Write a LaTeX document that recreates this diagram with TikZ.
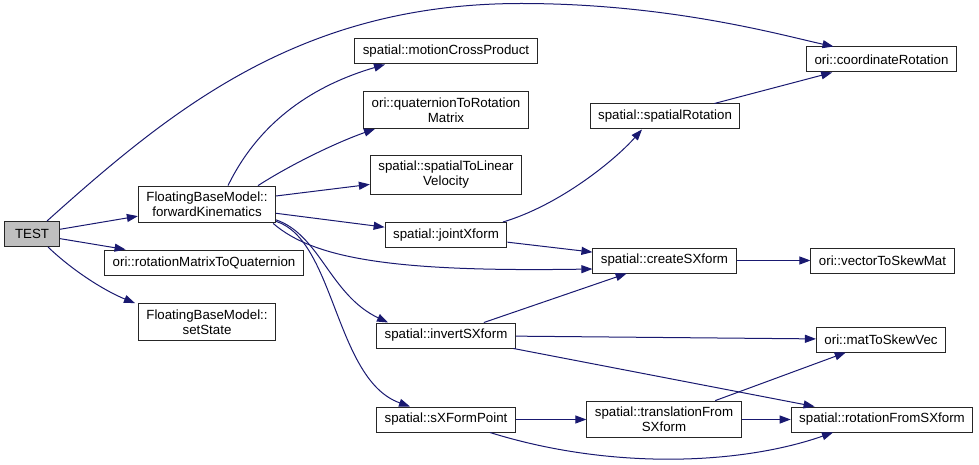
\documentclass[tikz,border=0pt]{standalone}
\usepackage{fontspec}
\setmainfont{Liberation Sans}
\usetikzlibrary{arrows.meta}
\definecolor{edgeblue}{RGB}{25,25,112}
\definecolor{rootgray}{RGB}{191,191,191}
\begin{document}
\begin{tikzpicture}[x=1pt, y=-1pt,
  box/.style={draw=black!85, line width=1pt, align=center, inner xsep=8pt, inner ysep=6pt, minimum height=25pt, font=\fontsize{13.3}{15}\selectfont},
  rootbox/.style={box, fill=rootgray, minimum width=55pt},
  arrow/.style={-{Triangle[length=11pt,width=8pt]}, edgeblue, line width=1pt}
]
\useasboundingbox (0,0) rectangle (979,465);
\node[rootbox] (test) at (32,234) {TEST};
\node[box] (forwardKin) at (207,204.5) {FloatingBaseModel::\\forwardKinematics};
\node[box] (rotToQuat) at (204,262.5) {ori::rotationMatrixToQuaternion};
\node[box] (setState) at (207,322) {FloatingBaseModel::\\setState};
\node[box] (motionCross) at (446,51.5) {spatial::motionCrossProduct};
\node[box] (quatToRot) at (446,110) {ori::quaternionToRotation\\Matrix};
\node[box] (toLinVel) at (446,175) {spatial::spatialToLinear\\Velocity};
\node[box] (jointX) at (446,235) {spatial::jointXform};
\node[box] (invertX) at (446,335.5) {spatial::invertSXform};
\node[box] (sXPoint) at (446,419.5) {spatial::sXFormPoint};
\node[box] (spatialRot) at (665,116.5) {spatial::spatialRotation};
\node[box] (coordRot) at (881.5,59.5) {ori::coordinateRotation};
\node[box] (createX) at (664.5,260.5) {spatial::createSXform};
\node[box] (vecToSkew) at (882.5,260.5) {ori::vectorToSkewMat};
\node[box] (matToSkew) at (881,339.5) {ori::matToSkewVec};
\node[box] (transFrom) at (664,419.5) {spatial::translationFrom\\SXform};
\node[box] (rotFrom) at (882,419.5) {spatial::rotationFromSXform};
\coordinate (arcTop) at (521,3.5);
% calls from TEST
\draw[arrow] (test) -- (forwardKin);
\draw[arrow] (test) -- (rotToQuat);
\draw[arrow] ([xshift=16pt]test.south) .. controls (73,271) and (105,291) .. ([xshift=-72pt]setState.north);
\draw[arrow] ([xshift=15pt]test.north) .. controls (173,108) and (301,3.5) .. (arcTop)
  .. controls (671,3.5) and (784,35.8) .. ([xshift=-48pt]coordRot.north);
% calls from forwardKinematics
\draw[arrow] ([xshift=21pt]forwardKin.north) .. controls (260,120) and (315,85) .. ([xshift=-61pt]motionCross.south);
\draw[arrow] ([xshift=51pt]forwardKin.north) .. controls (290,165) and (335,143) .. ([xshift=-71pt]quatToRot.south);
\draw[arrow] (forwardKin) -- (toLinVel);
\draw[arrow] (forwardKin) -- (jointX);
\draw[arrow] ([xshift=-3pt]forwardKin.south east) .. controls (315,260) and (400,272) .. ([yshift=-8.5pt]createX.west);
\draw[arrow] ([yshift=3.5pt]forwardKin.south east) .. controls (320,235) and (330,295) .. ([xshift=-58pt]invertX.north);
\draw[arrow] ([yshift=2pt]forwardKin.south east) .. controls (335,240) and (335,380) .. ([xshift=-36pt]sXPoint.north);
% lower levels
\draw[arrow] ([xshift=57pt]jointX.north) .. controls (560,205) and (615,160) .. ([xshift=-23pt]spatialRot.south);
\draw[arrow] (jointX) -- (createX);
\draw[arrow] (spatialRot) -- (coordRot);
\draw[arrow] (createX) -- (vecToSkew);
\draw[arrow] (invertX) -- (createX);
\draw[arrow] (invertX) -- (matToSkew);
\draw[arrow] (invertX) -- (rotFrom);
\draw[arrow] (sXPoint) -- (transFrom);
\draw[arrow] ([xshift=44pt]sXPoint.south) .. controls (610,470) and (740,465) .. ([xshift=-49pt]rotFrom.south);
\draw[arrow] (transFrom) -- (matToSkew);
\draw[arrow] (transFrom) -- (rotFrom);
\end{tikzpicture}
\end{document}
